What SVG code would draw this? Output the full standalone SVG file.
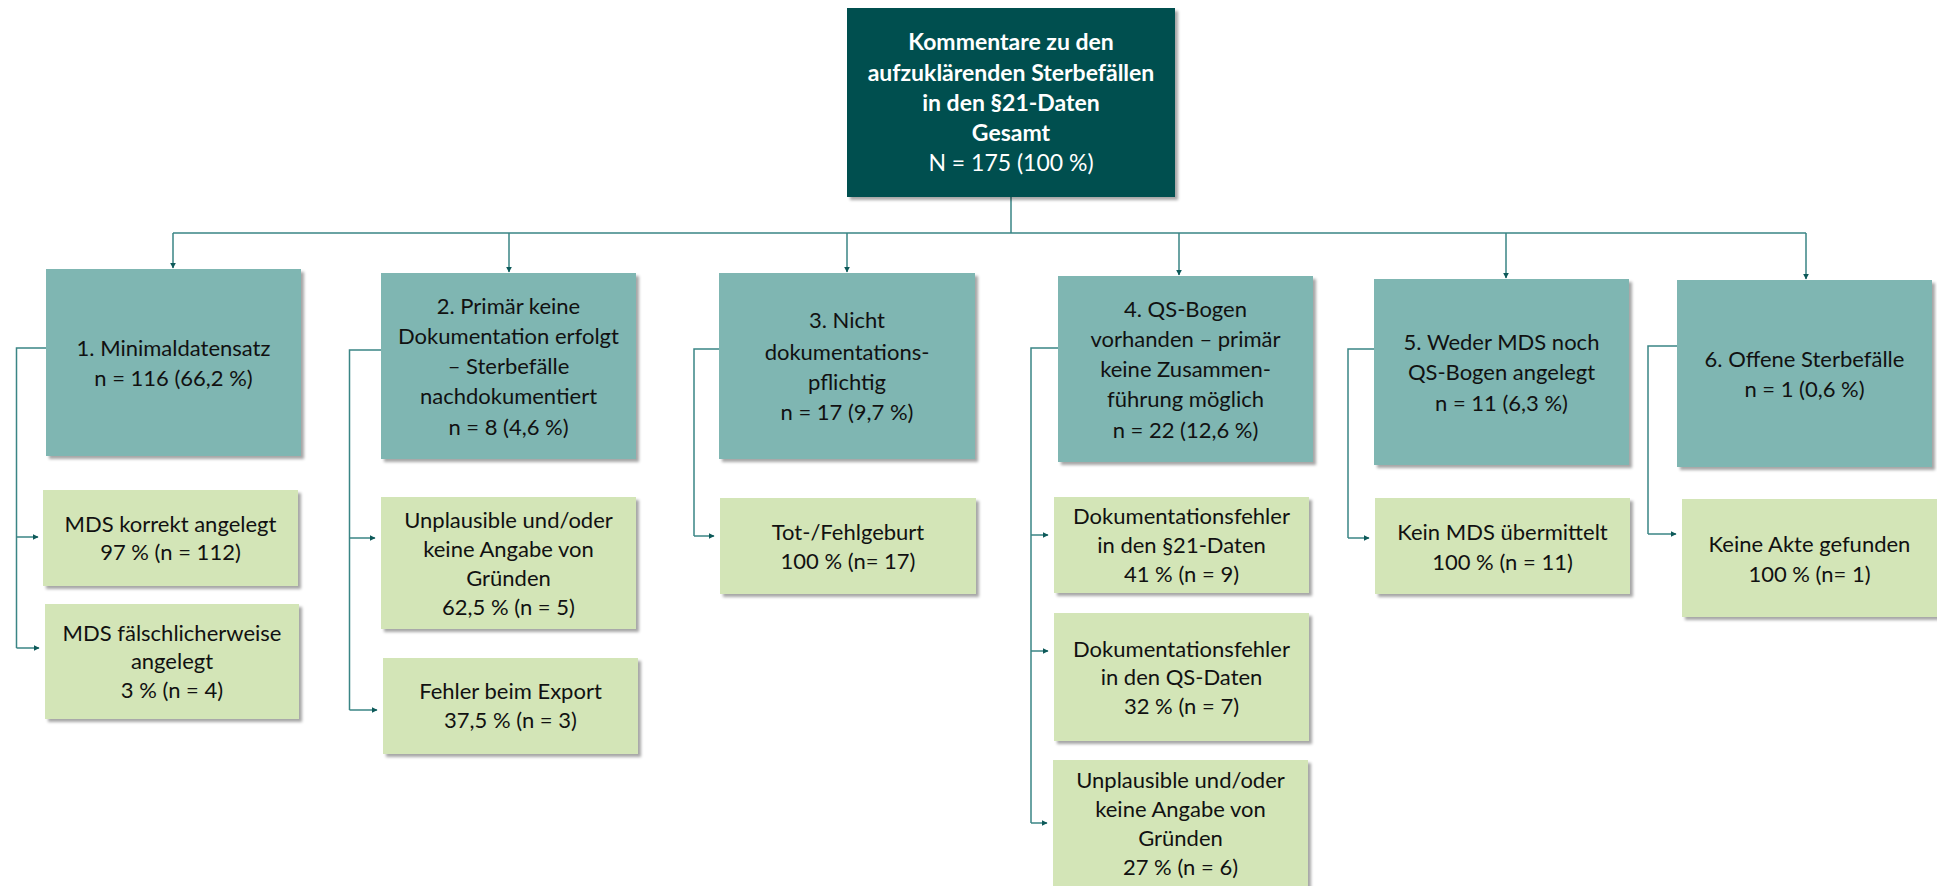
<svg xmlns="http://www.w3.org/2000/svg" width="1937" height="886" viewBox="0 0 1937 886">
<defs>
<filter id="sh" x="-10%" y="-10%" width="130%" height="130%">
<feDropShadow dx="3" dy="3" stdDeviation="1.8" flood-color="#000" flood-opacity="0.35"/>
</filter>
<marker id="ah" viewBox="0 0 10 10" refX="9" refY="5" markerWidth="6" markerHeight="6" markerUnits="userSpaceOnUse" orient="auto">
<path d="M0,0 L10,5 L0,10 z" fill="#0D5959"/>
</marker>
<style>
.top{fill:#01504F;filter:url(#sh)}
.l1{fill:#7FB6B2;filter:url(#sh)}
.l2{fill:#D3E5B7;filter:url(#sh)}
text{font-family:Lato,"Open Sans","Liberation Sans",sans-serif;font-size:22px;text-anchor:middle;fill:#111}
.tt{fill:#fff;font-weight:bold;font-size:23px}
.tn{fill:#fff;font-weight:normal;font-size:23px}
.c{fill:none;stroke:#3A8585;stroke-width:1.5}
.a{fill:none;stroke:#3A8585;stroke-width:1.5;marker-end:url(#ah)}
</style>
</defs>
<g id="connectors">
<path class="c" d="M1011,197 V233 M173,233 H1806"/>
<path class="a" d="M173,233 V268"/>
<path class="a" d="M509,233 V272"/>
<path class="a" d="M847,233 V272"/>
<path class="a" d="M1179,233 V275"/>
<path class="a" d="M1506,233 V278"/>
<path class="a" d="M1806,233 V279"/>
<path class="c" d="M46,348 H16.5 V648"/>
<path class="a" d="M16.5,537 H38"/>
<path class="a" d="M16.5,648 H39"/>
<path class="c" d="M381,350 H349.5 V710"/>
<path class="a" d="M349.5,538 H375"/>
<path class="a" d="M349.5,710 H377"/>
<path class="c" d="M719,349 H694 V536"/>
<path class="a" d="M694,536 H714"/>
<path class="c" d="M1058,348 H1031 V823"/>
<path class="a" d="M1031,535 H1048"/>
<path class="a" d="M1031,651 H1048"/>
<path class="a" d="M1031,823 H1047"/>
<path class="c" d="M1374,349 H1348 V538"/>
<path class="a" d="M1348,538 H1369"/>
<path class="c" d="M1677,346 H1648 V534"/>
<path class="a" d="M1648,534 H1676"/>
</g>
<g id="root">
<rect class="top" x="847" y="8" width="328" height="189"/>
<text class="tt" x="1011" y="50">Kommentare zu den</text>
<text class="tt" x="1011" y="81">aufzuklärenden Sterbefällen</text>
<text class="tt" x="1011" y="111">in den §21-Daten</text>
<text class="tt" x="1011" y="141">Gesamt</text>
<text class="tn" x="1011" y="171">N = 175 (100 %)</text>
</g>
<g id="n1">
<rect class="l1" x="46" y="269" width="255" height="187"/>
<text x="173.5" y="356">1. Minimaldatensatz</text>
<text x="173.5" y="386">n = 116 (66,2 %)</text>
</g>
<g id="n2">
<rect class="l1" x="381" y="273" width="255" height="186"/>
<text x="508.5" y="314">2. Primär keine</text>
<text x="508.5" y="344">Dokumentation erfolgt</text>
<text x="508.5" y="374">– Sterbefälle</text>
<text x="508.5" y="404">nachdokumentiert</text>
<text x="508.5" y="435">n = 8 (4,6 %)</text>
</g>
<g id="n3">
<rect class="l1" x="719" y="273" width="256" height="186"/>
<text x="847" y="328">3. Nicht</text>
<text x="847" y="360">dokumentations-</text>
<text x="847" y="390">pflichtig</text>
<text x="847" y="420">n = 17 (9,7 %)</text>
</g>
<g id="n4">
<rect class="l1" x="1058" y="276" width="255" height="186"/>
<text x="1185.5" y="317">4. QS-Bogen</text>
<text x="1185.5" y="347">vorhanden – primär</text>
<text x="1185.5" y="377">keine Zusammen-</text>
<text x="1185.5" y="407">führung möglich</text>
<text x="1185.5" y="438">n = 22 (12,6 %)</text>
</g>
<g id="n5">
<rect class="l1" x="1374" y="279" width="255" height="186"/>
<text x="1501.5" y="350">5. Weder MDS noch</text>
<text x="1501.5" y="380">QS-Bogen angelegt</text>
<text x="1501.5" y="411">n = 11 (6,3 %)</text>
</g>
<g id="n6">
<rect class="l1" x="1677" y="280" width="255" height="187"/>
<text x="1804.5" y="367">6. Offene Sterbefälle</text>
<text x="1804.5" y="397">n = 1 (0,6 %)</text>
</g>
<g id="n1a">
<rect class="l2" x="43" y="490" width="255" height="96"/>
<text x="170.5" y="532">MDS korrekt angelegt</text>
<text x="170.5" y="560">97 % (n = 112)</text>
</g>
<g id="n1b">
<rect class="l2" x="45" y="604" width="254" height="115"/>
<text x="172" y="641">MDS fälschlicherweise</text>
<text x="172" y="669">angelegt</text>
<text x="172" y="698">3 % (n = 4)</text>
</g>
<g id="n2a">
<rect class="l2" x="381" y="497" width="255" height="132"/>
<text x="508.5" y="528">Unplausible und/oder</text>
<text x="508.5" y="557">keine Angabe von</text>
<text x="508.5" y="586">Gründen</text>
<text x="508.5" y="615">62,5 % (n = 5)</text>
</g>
<g id="n2b">
<rect class="l2" x="383" y="658" width="255" height="96"/>
<text x="510.5" y="699">Fehler beim Export</text>
<text x="510.5" y="728">37,5 % (n = 3)</text>
</g>
<g id="n3a">
<rect class="l2" x="720" y="498" width="256" height="96"/>
<text x="848" y="540">Tot-/Fehlgeburt</text>
<text x="848" y="569">100 % (n= 17)</text>
</g>
<g id="n4a">
<rect class="l2" x="1054" y="497" width="255" height="96"/>
<text x="1181.5" y="524">Dokumentationsfehler</text>
<text x="1181.5" y="553">in den §21-Daten</text>
<text x="1181.5" y="582">41 % (n = 9)</text>
</g>
<g id="n4b">
<rect class="l2" x="1054" y="613" width="255" height="128"/>
<text x="1181.5" y="657">Dokumentationsfehler</text>
<text x="1181.5" y="685">in den QS-Daten</text>
<text x="1181.5" y="714">32 % (n = 7)</text>
</g>
<g id="n4c">
<rect class="l2" x="1053" y="760" width="255" height="140"/>
<text x="1180.5" y="788">Unplausible und/oder</text>
<text x="1180.5" y="817">keine Angabe von</text>
<text x="1180.5" y="846">Gründen</text>
<text x="1180.5" y="875">27 % (n = 6)</text>
</g>
<g id="n5a">
<rect class="l2" x="1375" y="498" width="255" height="96"/>
<text x="1502.5" y="540">Kein MDS übermittelt</text>
<text x="1502.5" y="570">100 % (n = 11)</text>
</g>
<g id="n6a">
<rect class="l2" x="1682" y="499" width="255" height="118"/>
<text x="1809.5" y="552">Keine Akte gefunden</text>
<text x="1809.5" y="582">100 % (n= 1)</text>
</g>
</svg>
